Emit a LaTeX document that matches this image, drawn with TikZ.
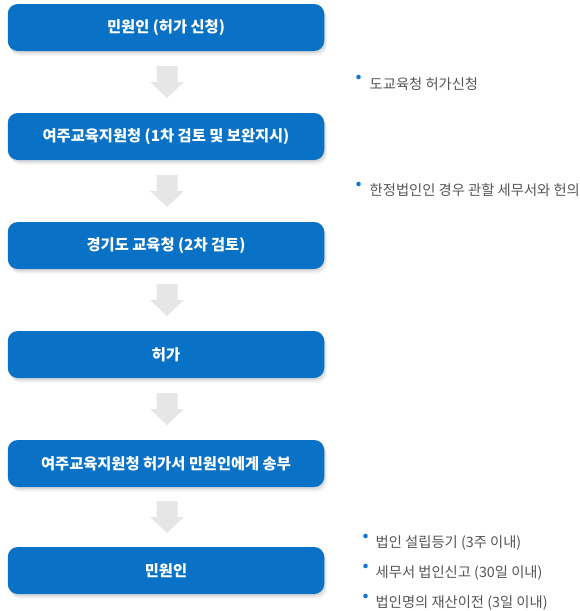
\documentclass[tikz,border=0pt]{standalone}
\usepackage{fontspec}
\setmainfont{Noto Sans CJK KR}
\usetikzlibrary{calc,shadows}
\definecolor{boxblue}{HTML}{0A72C6}
\definecolor{arrowgrey}{HTML}{E6E6E6}
\definecolor{notegrey}{HTML}{555555}
\definecolor{dotblue}{HTML}{1478D2}
\begin{document}
\begin{tikzpicture}[x=1pt,y=-1pt,
  flowbox/.style={fill=boxblue, rounded corners=10pt, minimum width=316.5pt,
    minimum height=47pt, inner sep=0pt, text=white,
    font=\bfseries\fontsize{15.3}{17}\selectfont,
    drop shadow={shadow xshift=1pt,shadow yshift=-2pt,opacity=0.07,fill=black},
    drop shadow={shadow xshift=2pt,shadow yshift=-3.5pt,opacity=0.05,fill=black},
    drop shadow={shadow xshift=3pt,shadow yshift=-5pt,opacity=0.03,fill=black}},
  note/.style={anchor=west, inner sep=0pt, text=notegrey,
    font=\fontsize{14.3}{16}\selectfont},
  bulletdot/.style={circle, fill=dotblue, minimum size=4.6pt, inner sep=0pt}]
\useasboundingbox (0,0) rectangle (579,611);
\clip (0,0) rectangle (579,611);

\node[flowbox] (b1) at (166,27.5) {민원인 (허가 신청)};
\node[flowbox] (b2) at (166,136.5) {여주교육지원청 (1차 검토 및 보완지시)};
\node[flowbox] (b3) at (166,245.5) {경기도 교육청 (2차 검토)};
\node[flowbox] (b4) at (166,354.5) {허가};
\node[flowbox] (b5) at (166,463.5) {여주교육지원청 허가서 민원인에게 송부};
\node[flowbox] (b6) at (166,570.5) {민원인};

\foreach \a/\b in {b1/b2,b2/b3,b3/b4,b4/b5,b5/b6}{
  \path ($(\a.south)!0.5!(\b.north)$) coordinate (m);
  \fill[arrowgrey] ([shift={(-9.5,-16)}]m) -- ([shift={(11.5,-16)}]m)
    -- ([shift={(11.5,0)}]m) -- ([shift={(18,0)}]m) -- ([shift={(1,16)}]m)
    -- ([shift={(-16,0)}]m) -- ([shift={(-9.5,0)}]m) -- cycle;
}

\node[bulletdot] (d1) at (358.5,77) {};
\node[note] (n1) at (369.5,84) {도교육청 허가신청};
\node[bulletdot] (d2) at (358.5,184) {};
\node[note] (n2) at (369.5,190) {한정법인인 경우 관할 세무서와 헌의};

\node[bulletdot] (d3) at (365.5,536) {};
\node[note] (n3) at (375.5,543) {법인 설립등기 (3주 이내)};
\node[bulletdot] (d4) at (365.5,566) {};
\node[note] (n4) at (375.5,573) {세무서 법인신고 (30일 이내)};
\node[bulletdot] (d5) at (365.5,596) {};
\node[note] (n5) at (375.5,603) {법인명의 재산이전 (3일 이내)};
\end{tikzpicture}
\end{document}
